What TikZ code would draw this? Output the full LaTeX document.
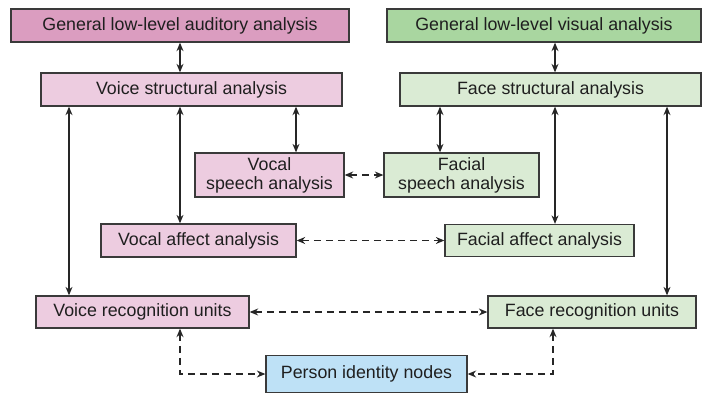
\documentclass[tikz,border=0pt]{standalone}
\usepackage{fontspec}
\setmainfont{Liberation Sans}
\usetikzlibrary{arrows.meta}
\definecolor{pinkD}{HTML}{DB9DC0}
\definecolor{pinkL}{HTML}{EDCCE0}
\definecolor{greenD}{HTML}{A9D6A0}
\definecolor{greenL}{HTML}{DAEBD4}
\definecolor{blueL}{HTML}{BEE1F6}
\definecolor{edge}{HTML}{3A3A3A}
\begin{document}
\begin{tikzpicture}[x=1pt,y=-1pt,
  box/.style={draw=edge,line width=1.3pt,inner sep=0pt,align=center,
    font=\fontsize{17.8}{19}\selectfont,text=black!88},
  conn/.style={draw=black!85,line width=1.2pt,{Stealth[length=8.5pt,width=7pt]}-{Stealth[length=8.5pt,width=7pt]}},
  dconn/.style={conn,dash pattern=on 7pt off 5pt}]
\useasboundingbox (0,0) rectangle (714,394);
\node[box,fill=pinkD,minimum width=338pt,minimum height=33pt] (aud) at (180,25.5) {General low-level auditory analysis};
\node[box,fill=greenD,minimum width=314pt,minimum height=33pt] (vis) at (544,25.5) {General low-level visual analysis};
\node[box,fill=pinkL,minimum width=301pt,minimum height=33pt] (vs) at (191.5,89.5) {Voice structural analysis};
\node[box,fill=greenL,minimum width=301pt,minimum height=33pt] (fs) at (550.5,89.5) {Face structural analysis};
\node[box,fill=pinkL,minimum width=149pt,minimum height=44pt] (vsp) at (269.5,175) {Vocal\\speech analysis};
\node[box,fill=greenL,minimum width=155pt,minimum height=44pt] (fsp) at (461.5,175) {Facial\\speech analysis};
\node[box,fill=pinkL,minimum width=195pt,minimum height=33pt] (va) at (198.5,240.5) {Vocal affect analysis};
\node[box,fill=greenL,minimum width=189pt,minimum height=32pt] (fa) at (539.5,240.5) {Facial affect analysis};
\node[box,fill=pinkL,minimum width=213pt,minimum height=32pt] (vr) at (142.5,312) {Voice recognition units};
\node[box,fill=greenL,minimum width=208pt,minimum height=32pt] (fr) at (592,312) {Face recognition units};
\node[box,fill=blueL,minimum width=201pt,minimum height=37pt] (pid) at (366.5,374) {Person identity nodes};
\coordinate (x69) at (69,0);
\coordinate (x180) at (180,0);
\coordinate (x296) at (296,0);
\coordinate (x440) at (440,0);
\coordinate (x555) at (555,0);
\coordinate (x667) at (667,0);
\coordinate (x553) at (553,0);
\coordinate (y175) at (0,175);
\path[conn] (aud.south -| x180) -- (vs.north -| x180);
\path[conn] (vis.south -| x555) -- (fs.north -| x555);
\path[conn] (vs.south -| x69) -- (vr.north -| x69);
\path[conn] (vs.south -| x180) -- (va.north -| x180);
\path[conn] (vs.south -| x296) -- (vsp.north -| x296);
\path[conn] (fs.south -| x440) -- (fsp.north -| x440);
\path[conn] (fs.south -| x555) -- (fa.north -| x555);
\path[conn] (fs.south -| x667) -- (fr.north -| x667);
\path[dconn] (vsp.east |- y175) -- (fsp.west |- y175);
\path[dconn] (va.east) -- (fa.west);
\path[dconn] (vr.east) -- (fr.west);
\path[dconn] (vr.south -| x180) |- (pid.west);
\path[dconn] (fr.south -| x553) |- (pid.east);
\end{tikzpicture}
\end{document}
